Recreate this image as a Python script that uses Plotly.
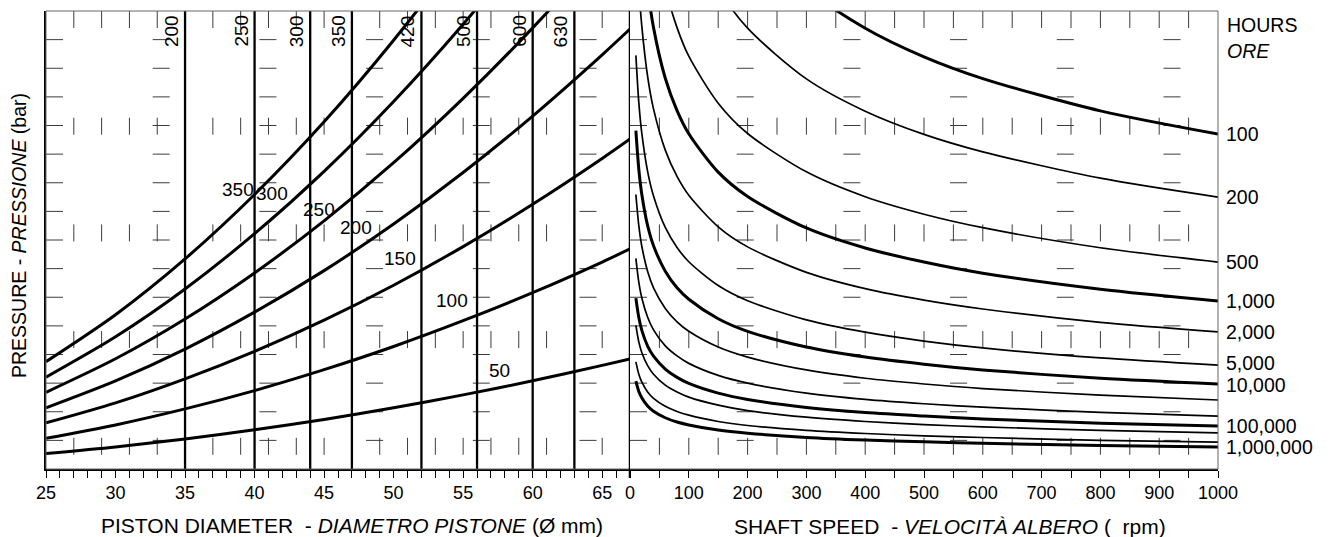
import plotly.graph_objects as go

# ---------------- data ----------------
# Left panel: piston diameter (mm) vs. load, one curve per pressure (bar)
diameter_mm = [25, 30, 35, 40, 45, 50, 55, 60, 65, 67]
pressure_bar = [50, 100, 150, 200, 250, 300, 350]
load_p50 = [0.54, 0.77, 1.05, 1.37, 1.73, 2.14, 2.59, 3.08, 3.62, 3.84]
load_p100 = [1.07, 1.54, 2.10, 2.74, 3.47, 4.28, 5.18, 6.16, 7.23, 7.69]
load_p150 = [1.61, 2.31, 3.15, 4.11, 5.20, 6.42, 7.77, 9.25, 10.85, 11.53]
load_p200 = [2.14, 3.08, 4.19, 5.48, 6.93, 8.56, 10.36, 12.33, 14.47, 15.37]
load_p250 = [2.68, 3.85, 5.24, 6.85, 8.67, 10.70, 12.95, 15.41, 18.08, 19.21]
load_p300 = [3.21, 4.62, 6.29, 8.22, 10.40, 12.84, 15.54, 18.49, 21.70, 23.06]
load_p350 = [3.75, 5.39, 7.34, 9.59, 12.13, 14.98, 18.13, 21.57, 25.32, 26.90]

# Vertical reference diameters and their labels
cyl_diameter_mm = [35, 40, 44, 47, 52, 56, 60, 63]
cyl_labels = ["200", "250", "300", "350", "420", "500", "600", "630"]

# Right panel: shaft speed (rpm) vs. load, one curve per life (hours)
speed_rpm = [10, 15, 20, 30, 40, 60, 80, 100, 150, 200, 300, 400, 500, 600, 800, 1000]
hours_100 = [46.58, 41.24, 37.84, 33.50, 30.74, 27.21, 24.96, 23.34, 20.67, 18.97, 16.79, 15.40, 14.40, 13.64, 12.51, 11.70]
hours_200 = [37.82, 33.49, 30.72, 27.20, 24.96, 22.10, 20.26, 18.95, 16.79, 15.40, 13.63, 12.50, 11.69, 11.08, 10.16, 9.50]
hours_500 = [28.78, 25.49, 23.38, 20.70, 18.99, 16.82, 15.42, 14.42, 12.78, 11.72, 10.38, 9.51, 8.90, 8.43, 7.73, 7.23]
hours_1k = [23.37, 20.69, 18.98, 16.81, 15.42, 13.65, 12.52, 11.71, 10.37, 9.52, 8.42, 7.72, 7.23, 6.84, 6.28, 5.87]
hours_2k = [19.07, 16.88, 15.49, 13.71, 12.58, 11.14, 10.22, 9.56, 8.46, 7.76, 6.87, 6.30, 5.90, 5.59, 5.12, 4.79]
hours_5k = [14.45, 12.80, 11.74, 10.39, 9.54, 8.44, 7.74, 7.24, 6.41, 5.88, 5.21, 4.78, 4.47, 4.23, 3.88, 3.63]
hours_10k = [11.82, 10.47, 9.61, 8.50, 7.80, 6.91, 6.33, 5.93, 5.25, 4.81, 4.26, 3.91, 3.66, 3.46, 3.17, 2.97]
hours_20k = [9.59, 8.50, 7.79, 6.90, 6.33, 5.61, 5.14, 4.81, 4.26, 3.91, 3.46, 3.17, 2.97, 2.81, 2.58, 2.41]
hours_50k = [7.36, 6.52, 5.98, 5.30, 4.86, 4.30, 3.95, 3.69, 3.27, 3.00, 2.65, 2.43, 2.28, 2.16, 1.98, 1.85]
hours_100k = [5.97, 5.29, 4.85, 4.29, 3.94, 3.49, 3.20, 2.99, 2.65, 2.43, 2.15, 1.97, 1.85, 1.75, 1.60, 1.50]
hours_200k = [5.02, 4.44, 4.07, 3.61, 3.31, 2.93, 2.69, 2.51, 2.23, 2.04, 1.81, 1.66, 1.55, 1.47, 1.35, 1.26]
hours_500k = [3.74, 3.31, 3.04, 2.69, 2.47, 2.19, 2.01, 1.88, 1.66, 1.52, 1.35, 1.24, 1.16, 1.10, 1.00, 0.94]
hours_1m = [3.07, 2.71, 2.49, 2.20, 2.02, 1.79, 1.64, 1.54, 1.36, 1.25, 1.10, 1.01, 0.95, 0.90, 0.82, 0.77]
hours_labels = ["100", "200", "500", "1,000", "2,000", "5,000", "10,000", "", "", "100,000", "", "", "1,000,000"]

# ---------------- figure ----------------
FONT = "Liberation Sans, Arial, sans-serif"
PAGE = 8                      # default body margin of the html page
W, H = 1331 - PAGE, 537 - PAGE
ML, MT = 46 - PAGE, 11 - PAGE
PW, PH = 1172, 458
MR = W - ML - PW
MB = H - MT - PH
SPLIT = 584 / PW
Y_MAX = 16

fig = go.Figure()

# diameter reference lines
for d in cyl_diameter_mm:
    fig.add_trace(go.Scatter(x=[d, d], y=[0, Y_MAX], mode="lines",
                             line=dict(color="black", width=2.3),
                             xaxis="x", yaxis="y", hoverinfo="skip", showlegend=False))

pressure_curves = [load_p50, load_p100, load_p150, load_p200, load_p250, load_p300, load_p350]
for vals in pressure_curves:
    fig.add_trace(go.Scatter(x=diameter_mm, y=vals, mode="lines",
                             line=dict(color="black", width=3, shape="spline", smoothing=0.8),
                             xaxis="x", yaxis="y", hoverinfo="skip", showlegend=False))

hours_curves = [hours_100, hours_200, hours_500, hours_1k, hours_2k, hours_5k, hours_10k,
                hours_20k, hours_50k, hours_100k, hours_200k, hours_500k, hours_1m]
thick = {0, 3, 6, 9, 12}
for i, vals in enumerate(hours_curves):
    fig.add_trace(go.Scatter(x=speed_rpm, y=vals, mode="lines",
                             line=dict(color="black", width=3 if i in thick else 1.7,
                                       shape="spline", smoothing=0.8),
                             xaxis="x2", yaxis="y2", hoverinfo="skip", showlegend=False))

# dashed grid pattern
DASH = "17px,89.7px"
GRID = "#3c3c3c"
shapes = []
for r in range(1, Y_MAX):
    shapes.append(dict(type="line", xref="x", yref="y", x0=25, x1=67, y0=r, y1=r,
                       line=dict(color=GRID, width=1, dash=DASH), layer="below"))
    shapes.append(dict(type="line", xref="x2", yref="y2", x0=0, x1=1000, y0=r, y1=r,
                       line=dict(color=GRID, width=1, dash=DASH), layer="below"))
for xv in range(27, 67, 2):
    shapes.append(dict(type="line", xref="x", yref="y", x0=xv, x1=xv, y0=Y_MAX, y1=0,
                       line=dict(color=GRID, width=1, dash=DASH), layer="below"))
for xv in range(50, 1000, 50):
    shapes.append(dict(type="line", xref="x2", yref="y2", x0=xv, x1=xv, y0=Y_MAX, y1=0,
                       line=dict(color=GRID, width=1, dash=DASH), layer="below"))
# frame
shapes.append(dict(type="rect", xref="paper", yref="paper", x0=0, x1=1, y0=0, y1=1,
                   line=dict(color="#666666", width=1)))
# panel divider
shapes.append(dict(type="line", xref="x", yref="paper", x0=67, x1=67, y0=-9 / PH, y1=1,
                   line=dict(color="black", width=2.5)))


def px_x(p):
    """reference-screenshot pixel x -> paper x"""
    return (p - PAGE - ML) / PW


def px_y(p):
    """reference-screenshot pixel y -> paper y"""
    return (MT + PH - (p - PAGE)) / PH


annotations = []
# labels of diameter lines (rotated)
for d, lab in zip(cyl_diameter_mm, cyl_labels):
    annotations.append(dict(x=d, y=15.3, xref="x", yref="y", text=lab, showarrow=False,
                            textangle=-90, xshift=-14, xanchor="center", yanchor="middle",
                            font=dict(family=FONT, size=19, color="black")))
# pressure curve labels
pressure_label_pos = [(57.6, 3.44), (54.2, 5.90), (50.45, 7.37), (47.3, 8.42),
                      (44.6, 9.08), (41.25, 9.64), (38.8, 9.75)]
for p, (lx, ly) in zip(pressure_bar, pressure_label_pos):
    annotations.append(dict(x=lx, y=ly, xref="x", yref="y", text=str(p), showarrow=False,
                            xanchor="center", yanchor="middle",
                            font=dict(family=FONT, size=19, color="black")))
# hours labels at right end of curves
label_nudge = {"5,000": 2, "10,000": -1}
for vals, lab in zip(hours_curves, hours_labels):
    if lab:
        annotations.append(dict(x=1000, y=vals[-1], xref="x2", yref="y2", text=lab,
                                showarrow=False, xanchor="left", yanchor="middle", xshift=6,
                                yshift=label_nudge.get(lab, 0),
                                font=dict(family=FONT, size=19.5, color="black")))
annotations.append(dict(x=px_x(1225), y=px_y(25), xref="paper", yref="paper", text="HOURS",
                        showarrow=False, xanchor="left", yanchor="middle",
                        font=dict(family=FONT, size=19.5, color="black")))
annotations.append(dict(x=px_x(1225), y=px_y(51), xref="paper", yref="paper", text="<i>ORE</i>",
                        showarrow=False, xanchor="left", yanchor="middle",
                        font=dict(family=FONT, size=19.5, color="black")))
# axis titles
annotations.append(dict(x=px_x(352), y=px_y(525), xref="paper", yref="paper",
                        text="PISTON DIAMETER  - <i>DIAMETRO PISTONE</i> (Ø mm)",
                        showarrow=False, xanchor="center", yanchor="middle",
                        font=dict(family=FONT, size=21, color="black")))
annotations.append(dict(x=px_x(950), y=px_y(526), xref="paper", yref="paper",
                        text="SHAFT SPEED  - <i>VELOCITÀ ALBERO</i> (  rpm)",
                        showarrow=False, xanchor="center", yanchor="middle",
                        font=dict(family=FONT, size=21, color="black")))
annotations.append(dict(x=px_x(19), y=px_y(236), xref="paper", yref="paper",
                        text="PRESSURE - <i>PRESSIONE</i> (bar)", textangle=-90,
                        showarrow=False, xanchor="center", yanchor="middle",
                        font=dict(family=FONT, size=19.5, color="black")))

tickfont = dict(family=FONT, size=18, color="black")
fig.update_layout(
    width=W, height=H,
    margin=dict(l=ML, r=MR, t=MT, b=MB),
    paper_bgcolor="white", plot_bgcolor="white",
    showlegend=False,
    xaxis=dict(domain=[0, SPLIT], range=[25, 67], tickmode="linear", tick0=25, dtick=5,
               ticks="outside", ticklen=7, tickcolor="black", tickfont=tickfont,
               showgrid=False, zeroline=False, showline=True, linecolor="black", linewidth=1.5,
               minor=dict(dtick=1, ticks="outside", ticklen=7, tickcolor="black", showgrid=False),
               anchor="y", fixedrange=True),
    xaxis2=dict(domain=[SPLIT, 1], range=[0, 1000], tickmode="linear", tick0=0, dtick=100,
                ticks="outside", ticklen=7, tickcolor="black", tickfont=tickfont,
                showgrid=False, zeroline=False, showline=True, linecolor="black", linewidth=1.5,
                minor=dict(dtick=50, ticks="outside", ticklen=7, tickcolor="black", showgrid=False),
                anchor="y2", fixedrange=True),
    yaxis=dict(domain=[0, 1], range=[0, Y_MAX], showticklabels=False, ticks="",
               showgrid=False, zeroline=False, showline=True, linecolor="black", linewidth=1.5,
               anchor="x", fixedrange=True),
    yaxis2=dict(domain=[0, 1], range=[0, Y_MAX], showticklabels=False, ticks="",
                showgrid=False, zeroline=False, showline=False, matches="y",
                anchor="x2", fixedrange=True),
    shapes=shapes,
    annotations=annotations,
)

fig.write_html("out.html", config={"displayModeBar": False})
